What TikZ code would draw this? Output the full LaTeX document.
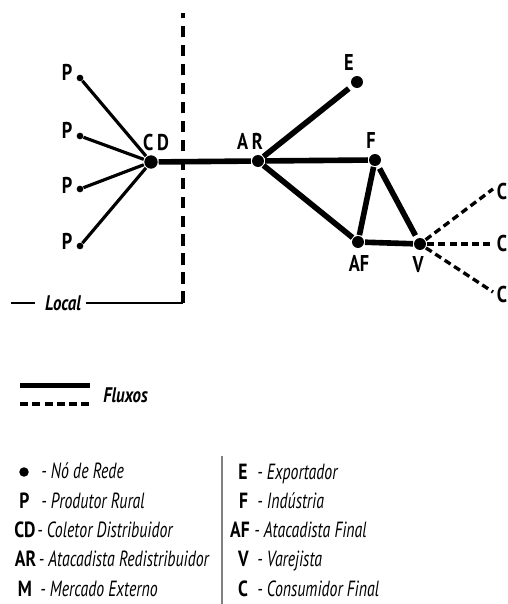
\documentclass[tikz,border=0pt]{standalone}
\usepackage{fontspec}
\setmainfont{PT Sans}[FakeStretch=0.8]
\newfontfamily\legenda{PT Sans}[FakeStretch=0.72]
\usetikzlibrary{positioning}

\tikzset{
  no/.style={circle, fill=black, inner sep=0pt, minimum size=6.8pt, outer sep=0.6pt},
  noprod/.style={circle, fill=black, inner sep=0pt, minimum size=3.8pt},
  rotulo/.style={font=\bfseries\fontsize{13}{15}\selectfont, inner sep=0pt},
  legsimb/.style={font=\bfseries\fontsize{12.5}{14}\selectfont, inner sep=0pt, anchor=base},
  legtxt/.style={font=\legenda\itshape\fontsize{12.5}{14}\selectfont, inner sep=0pt, anchor=base west},
  fluxo/.style={line width=3.2pt},
  fluxofino/.style={line width=1.8pt},
  consumo/.style={line width=1.9pt, dash pattern=on 4pt off 2.4pt},
  limite/.style={line width=2.2pt, dash pattern=on 6.6pt off 4.2pt},
}

\begin{document}
\begin{tikzpicture}[x=0.02cm, y=-0.02cm]
  \useasboundingbox (0,0) rectangle (507,604);

  % limite local
  \coordinate (topo) at (183,13);
  \coordinate (canto) at (183,303);
  \coordinate (ini) at (11,303);
  \node[font=\bfseries\itshape\fontsize{12}{14}\selectfont, inner sep=0pt] (local) at (63,303) {Local};
  \draw[line width=1.7pt] (ini) -- ++(24,0);
  \draw[line width=1.7pt] (local.east) ++(5,0) -- (canto);
  \draw[limite] (canto) -- (topo);

  % nos da rede
  \node[noprod] (p1) at (80,78) {};
  \node[noprod] (p2) at (80,136) {};
  \node[noprod] (p3) at (80,189) {};
  \node[noprod] (p4) at (80,246) {};
  \node[no, minimum size=7.6pt] (cd) at (151,162) {};
  \node[no] (ar) at (258,161) {};
  \node[no] (e) at (357,82) {};
  \node[no] (f) at (375,160) {};
  \node[no] (af) at (358,242) {};
  \node[no] (v) at (420,244) {};
  \coordinate (c1) at (493,189);
  \coordinate (c2) at (493,244);
  \coordinate (c3) at (493,292);

  % rotulos
  \node[rotulo] (lp1) at (67,72) {P};
  \node[rotulo] (lp2) at (67,130) {P};
  \node[rotulo] (lp3) at (67,185) {P};
  \node[rotulo] (lp4) at (67,241) {P};
  \node[rotulo] (lcd) at (156,143) {C\,D};
  \node[rotulo] (lar) at (250,141) {A\,R};
  \node[rotulo] (le) at (349,63) {E};
  \node[rotulo] (lf) at (371,141) {F};
  \node[rotulo] (laf) at (359,263) {AF};
  \node[rotulo] (lv) at (418,265) {V};
  \node[rotulo] (lc1) at (502,192) {C};
  \node[rotulo] (lc2) at (502,244) {C};
  \node[rotulo] (lc3) at (502,295) {C};

  % fluxos
  \foreach \p in {p1,p2,p3,p4}
    \draw[fluxofino] (\p) -- (cd);
  \draw[fluxo] (cd) -- (ar);
  \draw[fluxo, shorten >=2pt] (ar) -- (e);
  \draw[fluxo] (ar) -- (f);
  \draw[fluxo] (ar) -- (af);
  \draw[fluxo] (af) -- (f);
  \draw[fluxo, shorten <=1.5pt, shorten >=1.5pt] (f) -- (v);
  \draw[fluxo] (af) -- (v);
  \draw[consumo] (v) -- (c1);
  \draw[consumo] (v) -- (c2);
  \draw[consumo] (v) -- (c3);

  % legenda dos fluxos
  \coordinate (fa) at (20,385.5);
  \coordinate (fb) at (90,385.5);
  \coordinate (fc) at (20,404);
  \coordinate (fd) at (90,404);
  \draw[line width=2.9pt] (fa) -- (fb);
  \draw[line width=2.4pt, dash pattern=on 4.5pt off 2.5pt] (fc) -- (fd);
  \node[font=\bfseries\itshape\fontsize{12}{14}\selectfont, inner sep=0pt, anchor=west] (fluxos) at (103,395) {Fluxos};

  % legenda dos nos
  \node[no, minimum size=5.4pt] (sno) at (24,472) {};
  \node[legsimb] (sp) at (24.5,508) {P};
  \node[legsimb] (scd) at (25,537) {CD};
  \node[legsimb] (sar) at (25.5,566) {AR};
  \node[legsimb] (sm) at (25,596) {M};
  \node[legtxt] (tno) at (41,478) {- Nó de Rede};
  \node[legtxt] (tp) at (41,508) {- Produtor Rural};
  \node[legtxt] (tcd) at (37,537) {- Coletor Distribuidor};
  \node[legtxt] (tar) at (38.5,566) {- Atacadista Redistribuidor};
  \node[legtxt] (tm) at (40,596) {- Mercado Externo};

  \coordinate (sepa) at (222,456);
  \coordinate (sepb) at (222,604);
  \draw[gray, line width=0.6pt] (sepa) -- (sepb);

  \node[legsimb] (se) at (243,479) {E};
  \node[legsimb] (sf) at (243.5,508) {F};
  \node[legsimb] (saf) at (240,537) {AF};
  \node[legsimb] (sv) at (243.5,566) {V};
  \node[legsimb] (sc) at (243,596) {C};
  \node[legtxt] (te) at (257,479) {- Exportador};
  \node[legtxt] (tf) at (257,508) {- Indústria};
  \node[legtxt] (taf) at (254,537) {- Atacadista Final};
  \node[legtxt] (tv) at (257,566) {- Varejista};
  \node[legtxt] (tc) at (257,596) {- Consumidor Final};
\end{tikzpicture}
\end{document}
